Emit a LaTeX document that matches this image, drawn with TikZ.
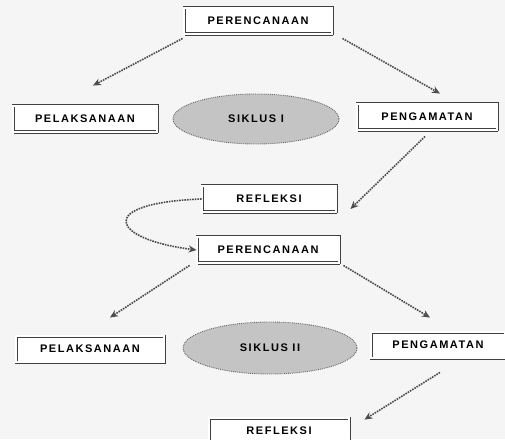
\documentclass[tikz,border=0pt]{standalone}
\usepackage{fontspec}
\newfontfamily\lblfont[LetterSpace=14]{Liberation Sans}
\usetikzlibrary{shapes.geometric,shadows,arrows.meta}
\definecolor{bgc}{RGB}{245,245,245}
\definecolor{ellc}{RGB}{196,196,196}
\tikzset{
  stagebox/.style={rectangle, draw=black!75, line width=0.9pt, fill=white,
    double=white, double distance=1.2pt,
    drop shadow={shadow xshift=1pt, shadow yshift=-2pt, fill=black!75, opacity=1},
    minimum height=26pt, inner sep=2pt, font=\lblfont\bfseries\fontsize{11}{13}\selectfont},
  cyc/.style={ellipse, draw=black!60, densely dotted, line width=0.9pt, fill=ellc,
    inner sep=0pt, font=\lblfont\bfseries\fontsize{11}{13}\selectfont},
  flow/.style={draw=black!70, line width=1.6pt, densely dotted,
    -{Stealth[length=8pt,width=7pt]}}
}
\begin{document}
\begin{tikzpicture}[x=1pt,y=1pt]
\fill[bgc] (0,0) rectangle (505,439);
\useasboundingbox (0,0) rectangle (505,439);
% cycle I
\node[stagebox, minimum width=148pt] (top) at (258,418) {PERENCANAAN};
\node[stagebox, minimum width=144pt] (ul) at (85,320) {PELAKSANAAN};
\node[cyc, minimum width=166pt, minimum height=50pt] (c1) at (256,320) {SIKLUS I};
\node[stagebox, minimum width=140pt] (ur) at (427,322) {PENGAMATAN};
\node[stagebox, minimum width=134pt] (m1) at (269,240) {REFLEKSI};
% cycle II
\node[stagebox, minimum width=142pt] (m2) at (268,189) {PERENCANAAN};
\node[stagebox, minimum width=148pt] (ll) at (90,90) {PELAKSANAAN};
\node[cyc, minimum width=174pt, minimum height=52pt] (c2) at (270,91) {SIKLUS II};
\node[stagebox, minimum width=134pt] (lr) at (438,94) {PENGAMATAN};
\node[stagebox, minimum width=140pt] (bt) at (279,8) {REFLEKSI};
% connectors
\draw[flow] ([xshift=-1pt,yshift=-4pt]top.south west) -- ([xshift=8pt,yshift=20pt]ul.north);
\draw[flow] ([xshift=10pt,yshift=-4pt]top.south east) -- ([xshift=13pt,yshift=10pt]ur.north);
\draw[flow] ([xshift=-2pt,yshift=-6pt]ur.south) -- ([xshift=14pt,yshift=-10pt]m1.east);
\draw[flow] (m1.west) .. controls (95,236) and (110,200) .. (m2.west);
\draw[flow] ([xshift=-7pt,yshift=-2pt]m2.south west) -- ([xshift=20pt,yshift=18pt]ll.north);
\draw[flow] ([xshift=4pt,yshift=-2pt]m2.south east) -- ([xshift=-8pt,yshift=14pt]lr.north);
\draw[flow] ([xshift=2pt,yshift=-14pt]lr.south) -- ([xshift=15pt,yshift=-2pt]bt.north east);
\end{tikzpicture}
\end{document}
